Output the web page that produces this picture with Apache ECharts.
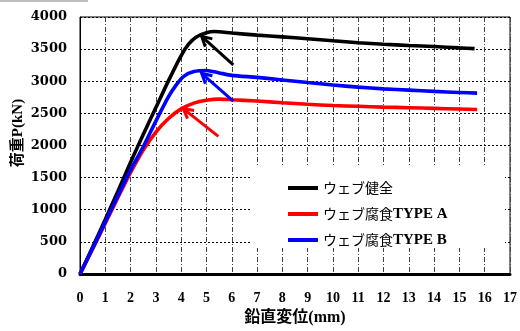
<!DOCTYPE html>
<html>
<head>
<meta charset="utf-8">
<script src="https://cdn.jsdelivr.net/npm/echarts@6/dist/echarts.min.js"></script>
<style>
  html, body { margin: 0; padding: 0; background: #fff; }
  #chart { width: 520px; height: 331px; }
</style>
</head>
<body>
<div id="chart"></div>
<script>
// Load–displacement curves (displacement mm, load kN)
const seriesNames = ['ウェブ健全', 'ウェブ腐食TYPE A', 'ウェブ腐食TYPE B'];

const sound = [
  [0, 0], [0.5, 420], [1, 850], [1.5, 1290], [2, 1740], [2.5, 2170], [3, 2590],
  [3.5, 3010], [4, 3400], [4.3, 3580], [4.6, 3690], [5, 3755], [5.3, 3775],
  [6, 3750], [7, 3718], [8, 3690], [9, 3662], [10, 3630], [11, 3600], [12, 3576],
  [13, 3556], [14, 3540], [15, 3520], [15.6, 3508]
];

const typeA = [
  [0, 0], [0.5, 390], [1, 790], [1.5, 1190], [2, 1580], [2.5, 1930], [3, 2210],
  [3.5, 2420], [4, 2570], [4.5, 2660], [5, 2705], [5.5, 2722], [6, 2712],
  [7, 2692], [8, 2665], [9, 2642], [10, 2622], [11, 2610], [12, 2598],
  [13, 2588], [14, 2578], [15, 2568], [15.7, 2560]
];

const typeB = [
  [0, 0], [0.5, 400], [1, 810], [1.5, 1220], [2, 1620], [2.5, 1980], [3, 2380],
  [3.5, 2760], [3.8, 2940], [4.1, 3075], [4.5, 3150], [5, 3168], [5.5, 3130],
  [6, 3092], [7, 3060], [8, 3020], [9, 2980], [10, 2942], [11, 2908], [12, 2882],
  [13, 2862], [14, 2842], [15, 2826], [15.7, 2815]
];

// Peak-load pointers: [tailX, tailP, headX, headP]
const arrowSound = [6.06, 3254, 4.81, 3700];
const arrowB = [6.06, 2692, 4.81, 3122];
const arrowA = [5.47, 2141, 4.08, 2575];

const xTicks = { min: 0, max: 17, interval: 1 };
const yTicks = { min: 0, max: 4000, interval: 500 };

const colors = { sound: '#000000', a: '#ff0000', b: '#0000ff' };

function arrowSeries(item, color) {
  return {
    type: 'custom',
    silent: true,
    z: 3,
    data: [item],
    encode: { x: [0, 2], y: [1, 3] },
    renderItem: function (params, api) {
      const p1 = api.coord([api.value(0), api.value(1)]);
      const p2 = api.coord([api.value(2), api.value(3)]);
      const ang = Math.atan2(p1[1] - p2[1], p1[0] - p2[0]);
      const L = 11, a = 0.5;
      const h1 = [p2[0] + L * Math.cos(ang + a), p2[1] + L * Math.sin(ang + a)];
      const h2 = [p2[0] + L * Math.cos(ang - a), p2[1] + L * Math.sin(ang - a)];
      return {
        type: 'group',
        children: [
          { type: 'line', shape: { x1: p1[0], y1: p1[1], x2: p2[0], y2: p2[1] },
            style: { stroke: color, lineWidth: 3 } },
          { type: 'polyline', shape: { points: [h1, p2, h2] },
            style: { stroke: color, lineWidth: 3, fill: null } }
        ]
      };
    }
  };
}

function curve(name, data, color) {
  return {
    name: name,
    type: 'line',
    data: data,
    showSymbol: false,
    symbol: 'none',
    smooth: 0.25,
    color: color,
    lineStyle: { width: 3.6, color: color },
    z: 2
  };
}

const chart = echarts.init(document.getElementById('chart'), null, { renderer: 'canvas' });

chart.setOption({
  animation: false,
  backgroundColor: '#ffffff',
  grid: {
    left: 80, top: 17, right: 10, bottom: 53,
    show: true, borderColor: '#000', borderWidth: 1
  },
  xAxis: {
    type: 'value',
    min: xTicks.min, max: xTicks.max, interval: xTicks.interval,
    name: '鉛直変位(mm)',
    nameLocation: 'middle',
    nameGap: 36,
    nameTextStyle: {
      fontFamily: "'Liberation Serif', 'Noto Sans CJK JP'",
      fontWeight: 'bold', fontSize: 16, color: '#000'
    },
    axisLine: { show: true, onZero: false, lineStyle: { color: '#000', width: 3 } },
    axisTick: { show: false },
    axisLabel: {
      margin: 17, color: '#000',
      fontFamily: "'Liberation Serif'", fontWeight: 'bold', fontSize: 14
    },
    splitLine: { show: true, lineStyle: { color: '#444', width: 1, type: [5, 2, 1, 2] } }
  },
  yAxis: {
    type: 'value',
    min: yTicks.min, max: yTicks.max, interval: yTicks.interval,
    axisLine: { show: true, onZero: false, lineStyle: { color: '#000', width: 1 } },
    axisTick: { show: false },
    axisLabel: {
      margin: 13, color: '#000',
      fontFamily: "'DejaVu Serif'", fontWeight: 'bold', fontSize: 13,
      formatter: function (v) { return String(v); }
    },
    splitLine: { show: true, lineStyle: { color: '#000', width: 1, type: [2, 2] } }
  },
  legend: {
    data: seriesNames,
    orient: 'vertical',
    left: 288, top: 180,
    padding: 0,
    itemGap: 10,
    icon: 'rect',
    itemWidth: 30, itemHeight: 4,
    z: 10,
    formatter: function (name) {
      const m = name.match(/^(.*?)(TYPE .*)?$/);
      return '{j|' + m[1] + '}' + (m[2] ? '{b|' + m[2] + '}' : '');
    },
    textStyle: {
      color: '#000', fontSize: 15, lineHeight: 16,
      rich: {
        j: { fontFamily: "'Noto Sans CJK JP'", fontSize: 14, color: '#000' },
        b: { fontFamily: "'Liberation Serif'", fontWeight: 'bold', fontSize: 15, color: '#000' }
      }
    }
  },
  graphic: [
    { type: 'rect', z: 5, silent: true,
      shape: { x: 252, y: 165, width: 253, height: 83 },
      style: { fill: '#ffffff' } },
    { type: 'rect', z: 5, silent: true,
      shape: { x: 0, y: 0, width: 88, height: 2 },
      style: { fill: '#bdbdbd' } },
    { type: 'text', z: 5, silent: true,
      x: 18, y: 133, rotation: Math.PI / 2,
      style: {
        text: '荷重P(kN)',
        font: "bold 15px 'Liberation Serif', 'Noto Sans CJK JP'",
        fill: '#000', align: 'center', verticalAlign: 'middle'
      } }
  ],
  series: [
    curve(seriesNames[0], sound, colors.sound),
    curve(seriesNames[1], typeA, colors.a),
    curve(seriesNames[2], typeB, colors.b),
    arrowSeries(arrowSound, colors.sound),
    arrowSeries(arrowB, colors.b),
    arrowSeries(arrowA, colors.a)
  ]
});
</script>
</body>
</html>
